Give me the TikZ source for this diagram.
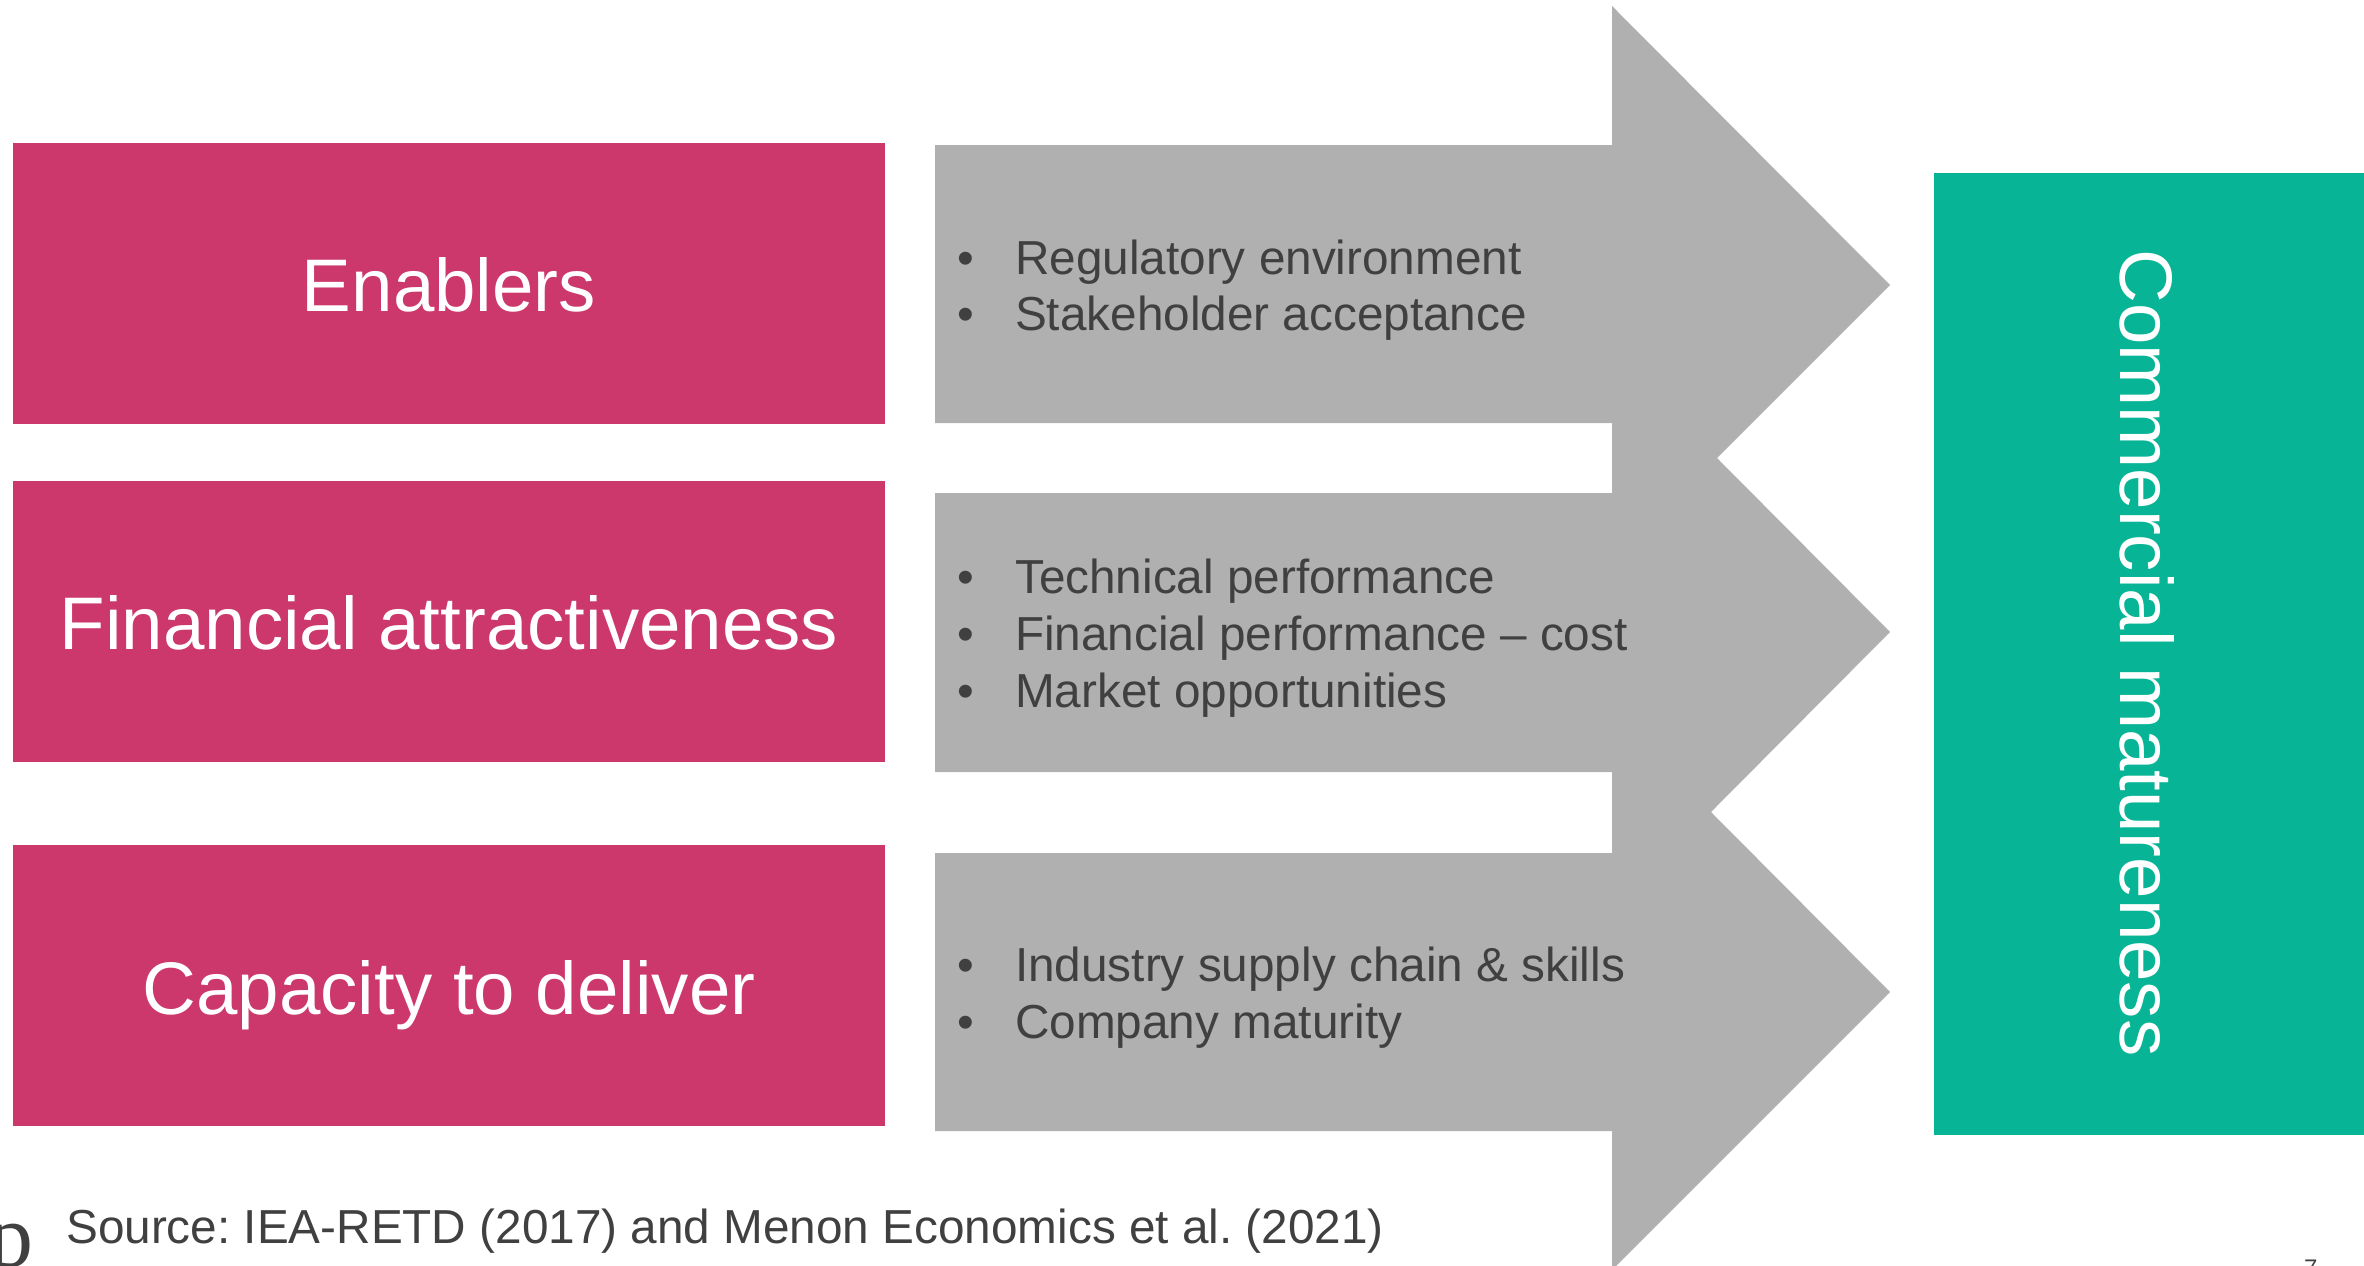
\documentclass[tikz,border=0pt]{standalone}
\usepackage{fontspec}
\setmainfont{Liberation Sans}
\newfontfamily\logofont{Liberation Serif}
\definecolor{rowpink}{HTML}{CC386C}
\definecolor{arrowgray}{HTML}{B0B0B0}
\definecolor{goalgreen}{HTML}{07B596}
\definecolor{textgray}{HTML}{404040}
% one bullet line: bullet, then the text at a fixed indent
\newcommand\itemline[1]{\makebox[58pt][l]{\textbullet}#1}
\frenchspacing

\begin{document}
\begin{tikzpicture}[x=1pt,y=-1pt,
  factor/.style={fill=rowpink, draw=none, anchor=north west, inner sep=0,
                 minimum width=872pt, minimum height=281pt},
  goal/.style={fill=goalgreen, draw=none, anchor=north west, inner sep=0,
               minimum width=440pt, minimum height=962pt},
  title/.style={anchor=base, inner sep=0, text=white,
                font=\fontsize{74.5}{89}\selectfont},
  item/.style={anchor=base west, inner sep=0, text=textgray,
               font=\fontsize{47.7}{57}\selectfont},
]
\path[use as bounding box, clip] (0,0) rectangle (2364,1266);
\fill[white] (0,0) rectangle (2364,1266);

% three factor boxes
\node[factor] (enablers) at (13,143) {};
\node[factor] (finance)  at (13,481) {};
\node[factor] (capacity) at (13,845) {};

% grey bands merging into one triple-headed arrow
\fill[arrowgray]
  (935,145) -- (1612,145) -- (1612,6) -- (1890,285) -- (1717,458)
  -- (1890,632) -- (1711,812) -- (1890,992) -- (1612,1270)
  -- (1612,1131) -- (935,1131) -- (935,853) -- (1612,853)
  -- (1612,772) -- (935,772) -- (935,493) -- (1612,493)
  -- (1612,423) -- (935,423) -- cycle;

% outcome box
\node[goal] (maturity) at (1934,173) {};
\node[rotate=-90, anchor=base, inner sep=0, text=white,
      font=\fontsize{74.5}{89}\selectfont] (maturitytext) at (2120,653)
  {Commercial matureness};

% factor titles
\node[title] (enablerstext) at (449,311)  {Enablers};
\node[title] (financetext)  at (449,649)  {Financial attractiveness};
\node[title] (capacitytext) at (449,1014) {Capacity to deliver};

% bullet lists on the arrow bands
\node[item] (i11) at (957,274)  {\itemline{Regulatory environment}};
\node[item] (i12) at (957,330)  {\itemline{Stakeholder acceptance}};
\node[item] (i21) at (957,593)  {\itemline{Technical performance}};
\node[item] (i22) at (957,650)  {\itemline{Financial performance -- cost}};
\node[item] (i23) at (957,707)  {\itemline{Market opportunities}};
\node[item] (i31) at (957,981)  {\itemline{Industry supply chain \& skills}};
\node[item] (i32) at (957,1038) {\itemline{Company maturity}};

% footer
\node[item] (source) at (66,1243)
  {Source: IEA-RETD (2017) and Menon Economics et al. (2021)};
\node[anchor=base west, inner sep=0, text=textgray,
      font=\logofont\fontsize{90}{90}\selectfont] (logo) at (-12,1266) {p};
\node[anchor=base west, inner sep=0, text=textgray,
      font=\fontsize{24}{24}\selectfont] (pageno) at (2304,1276) {7};
\end{tikzpicture}
\end{document}
